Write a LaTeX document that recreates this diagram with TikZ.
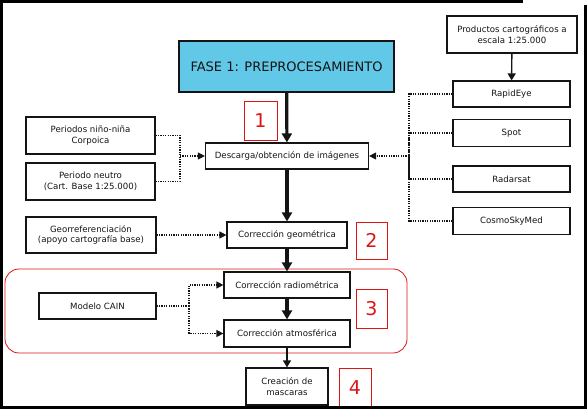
\documentclass[tikz,border=0pt]{standalone}
\usepackage{fontspec}
\setmainfont{DejaVu Sans}
\usetikzlibrary{arrows.meta}
\definecolor{ink}{RGB}{20,20,20}
\definecolor{phasefill}{RGB}{98,200,232}
\definecolor{mark}{RGB}{220,20,20}
\tikzset{
  every picture/.style={color=ink, line width=0.5pt, x=1pt, y=-1pt},
  box/.style={draw=ink, line width=1.2pt, fill=white, inner sep=0pt, align=center, font=\fontsize{8.6}{10.5}\selectfont},
  src/.style={box, minimum width=129pt, minimum height=37pt},
  sat/.style={box, minimum width=117pt, minimum height=26pt},
  phase/.style={box, fill=phasefill, minimum width=215pt, minimum height=51pt, font=\fontsize{13}{15}\selectfont},
  tag/.style={draw=mark, line width=0.8pt, text=mark, inner sep=0pt, font=\fontsize{19}{20}\selectfont},
  group/.style={draw=mark, line width=0.8pt, rounded corners=14pt, inner sep=0pt},
  flow/.style={-{Triangle[length=9pt,width=10pt]}, line width=3.2pt},
  sub/.style={-{Triangle[length=7pt,width=8pt]}, line width=1.4pt},
  feed/.style={dash pattern=on 1.2pt off 1.2pt, line width=1.2pt},
  feedin/.style={feed, -{Triangle[length=7pt,width=7pt]}},
  frame/.style={line width=3pt, color=black},
}
\begin{document}
\begin{tikzpicture}
  \useasboundingbox (0,0) rectangle (587,409);
  % grouping of the two radiometric steps
  \node[group, minimum width=402pt, minimum height=84pt] (grp) at (206,311) {};

  % main column
  \node[phase] (fase) at (286.5,66.5) {FASE 1: PREPROCESAMIENTO};
  \node[box, minimum width=163pt, minimum height=26pt] (desc) at (287,156) {Descarga/obtención de imágenes};
  \node[box, minimum width=120pt, minimum height=26pt] (geom) at (287,235) {Corrección geométrica};
  \node[box, minimum width=126pt, minimum height=26pt] (radio) at (287,285) {Corrección radiométrica};
  \node[box, minimum width=126pt, minimum height=27pt] (atmos) at (287,333.5) {Corrección atmosférica};
  \node[box, minimum width=82pt, minimum height=37pt] (mask) at (287,386.5) {Creación de\\mascaras};

  % step numbers
  \node[tag, minimum width=33pt, minimum height=39pt] (n1) at (260.5,120.5) {1};
  \node[tag, minimum width=31pt, minimum height=37pt] (n2) at (371.5,240.5) {2};
  \node[tag, minimum width=31pt, minimum height=39pt] (n3) at (371.5,308.5) {3};
  \node[tag, minimum width=32pt, minimum height=40pt] (n4) at (355,388) {4};

  % inputs on the left
  \node[src] (nino) at (90.5,135.5) {Periodos niño-niña\\Corpoica};
  \node[src] (neutro) at (90.5,181.5) {Periodo neutro\\(Cart. Base 1:25.000)};
  \node[src, minimum width=130pt, minimum height=36pt] (georef) at (91,235) {Georreferenciación\\(apoyo cartografía base)};
  \node[sat] (cain) at (97.5,306) {Modelo CAIN};

  % sensors on the right
  \node[src, minimum width=130pt] (prod) at (512,34.5) {Productos cartográficos a\\escala 1:25.000};
  \node[sat] (rapid) at (511.5,94) {RapidEye};
  \node[sat, minimum height=27pt] (spot) at (511.5,133) {Spot};
  \node[sat] (radar) at (511.5,179) {Radarsat};
  \node[sat, minimum height=27pt] (cosmo) at (511.5,221) {CosmoSkyMed};

  \coordinate (jl) at (180,156);
  \coordinate (jr) at (409,156);
  \coordinate (jc) at (189,306);

  \draw[flow] (fase) -- (desc);
  \draw[flow] (desc) -- (geom);
  \draw[flow] (geom) -- (radio);
  \draw[flow] (radio) -- (atmos);
  \draw[sub] (atmos) -- (mask);
  \draw[sub] (prod) -- (rapid);

  \draw[feed] (nino.east) -| (jl);
  \draw[feed] (neutro.east) -| (jl);
  \draw[feedin] (jl) -- (desc.west);
  \foreach \s in {rapid,spot,radar,cosmo}
    \draw[feed] (\s.west) -| (jr);
  \draw[feedin] (jr) -- (desc.east);
  \draw[feedin] (georef) -- (geom);
  \draw[feed] (cain.east) -- (jc);
  \draw[feedin] (jc) |- (radio.west);
  \draw[feedin] (jc) |- (atmos.west);

  % screenshot border
  \draw[frame] (1.5,409) -- (1.5,1.5) -- (523,1.5);
  \draw[frame] (0,407.5) -- (585.5,407.5) -- (585.5,5);
\end{tikzpicture}
\end{document}
